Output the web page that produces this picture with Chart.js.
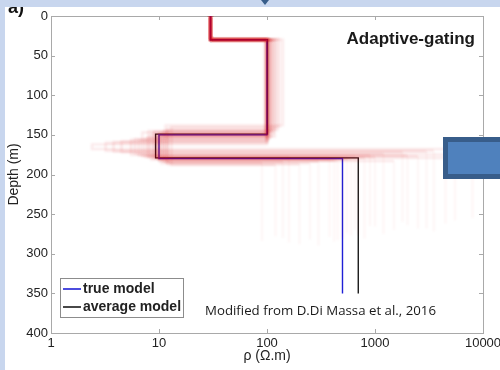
<!DOCTYPE html>
<html>
<head>
<meta charset="utf-8">
<script src="https://cdn.jsdelivr.net/npm/chart.js@4.4.1/dist/chart.umd.min.js"></script>
<style>
  html, body { margin: 0; padding: 0; background: #fff; }
  canvas { display: block; }
</style>
</head>
<body>
<canvas id="myChart" width="500" height="370"></canvas>
<script>
// axis ticks
const depthTicks = [0, 50, 100, 150, 200, 250, 300, 350, 400];
const rhoTicks = [1, 10, 100, 1000, 10000];

// true and average 4-layer models: layer resistivities, interface depths, bottom
const trueRho = [30, 100, 10, 500];
const trueDepth = [30, 150, 180];
const trueBottom = 350;

const avgRho = [30, 101, 9.3, 700];
const avgDepth = [30, 149, 179];
const avgBottom = 350;

// inverted models, one column per model
const ensRho1   = [30, 30, 30, 30, 30, 30, 30, 30, 30, 30, 30, 30, 30, 30, 30, 30, 30, 30, 30, 30, 30, 30, 30, 30, 30, 30, 30, 30];
const ensDepth1 = [30, 30, 31, 30, 29, 30, 30, 31, 30, 30, 30, 29, 30, 30, 31, 30, 30, 30, 30, 30, 30, 29, 30, 31, 30, 30, 30, 30];
const ensRho2   = [100, 105, 98, 110, 102, 120, 100, 95, 115, 100, 108, 130, 100, 104, 112, 99, 140, 101, 106, 125, 100, 103, 97, 118, 100, 109, 100, 102];
const ensDepth2 = [150, 148, 152, 145, 155, 142, 158, 150, 147, 160, 153, 140, 162, 149, 151, 156, 138, 146, 154, 144, 150, 157, 148, 152, 159, 145, 150, 151];
const ensRho3   = [10, 9, 11, 8, 6, 12, 4.5, 10.5, 7, 3.2, 9.5, 13, 2.4, 8.5, 10, 5.5, 11.5, 9, 7.5, 12, 10, 6.5, 10, 8, 3.8, 11, 9.8, 9.5];
const ensDepth3 = [180, 178, 182, 176, 174, 184, 172, 186, 177, 170, 179, 188, 168, 181, 183, 175, 185, 180, 178, 187, 180, 176, 182, 179, 171, 184, 180, 179];
const ensRho4   = [500, 650, 420, 900, 1200, 300, 1800, 250, 2500, 3500, 160, 120, 4500, 700, 1500, 5500, 90, 380, 1000, 200, 550, 2000, 450, 8000, 3000, 140, 600, 800];
const ensBottom = [280, 270, 285, 265, 275, 290, 260, 282, 268, 272, 286, 278, 262, 276, 270, 258, 284, 279, 266, 288, 274, 264, 283, 255, 268, 280, 277, 281];

// turn a layered model into a staircase of points (x = rho, y = depth)
function toSteps(rho, depth, bottom) {
  const pts = [{x: rho[0], y: 0}];
  for (let i = 0; i < depth.length; i++) {
    pts.push({x: rho[i], y: depth[i]});
    pts.push({x: rho[i + 1], y: depth[i]});
  }
  pts.push({x: rho[rho.length - 1], y: bottom});
  return pts;
}

const ensembleSets = ensRho1.map((r1, i) => ({
  label: 'ensemble',
  data: toSteps([r1, ensRho2[i], ensRho3[i], ensRho4[i]],
                [ensDepth1[i], ensDepth2[i], ensDepth3[i]], ensBottom[i]),
  borderColor: 'rgba(215, 0, 20, 0.09)',
  borderWidth: 2.4,
  // the half-space part of each model is drawn much fainter
  segment: {
    borderColor: c => c.p0DataIndex >= 6 ? 'rgba(230, 0, 20, 0.05)' : undefined,
    borderWidth: c => c.p0DataIndex >= 6 ? 1.6 : undefined
  },
  order: 0
}));

const trueSet = {
  label: 'true model',
  data: toSteps(trueRho, trueDepth, trueBottom),
  borderColor: '#1f1fd6',
  borderWidth: 1.4,
  order: 1
};

const avgSet = {
  label: 'average model',
  data: toSteps(avgRho, avgDepth, avgBottom),
  borderColor: '#1a1a1a',
  borderWidth: 1.4,
  order: 2
};

const FONT = '"Liberation Sans", Arial, sans-serif';

// soften the ensemble lines a little
const softLines = {
  id: 'softLines',
  beforeDatasetDraw(chart, args) {
    if (chart.data.datasets[args.index].label !== 'ensemble') return;
    chart.ctx.save();
    chart.ctx.filter = 'blur(1.1px)';
  },
  afterDatasetDraw(chart, args) {
    if (chart.data.datasets[args.index].label !== 'ensemble') return;
    chart.ctx.restore();
  }
};

// box around the plot with inward ticks on all four sides
const axesBox = {
  id: 'axesBox',
  beforeDatasetsDraw(chart) {
    const {ctx, chartArea: a, scales: {x, y}} = chart;
    ctx.save();
    ctx.strokeStyle = '#a9a9a9';
    ctx.lineWidth = 1;
    ctx.strokeRect(Math.round(a.left) + 0.5, Math.round(a.top) + 0.5,
                   Math.round(a.right - a.left), Math.round(a.bottom - a.top));
    ctx.beginPath();
    rhoTicks.forEach(v => {
      const px = Math.round(x.getPixelForValue(v)) + 0.5;
      ctx.moveTo(px, a.bottom); ctx.lineTo(px, a.bottom - 4);
      ctx.moveTo(px, a.top); ctx.lineTo(px, a.top + 4);
    });
    depthTicks.forEach(v => {
      const py = Math.round(y.getPixelForValue(v)) + 0.5;
      ctx.moveTo(a.left, py); ctx.lineTo(a.left + 4, py);
      ctx.moveTo(a.right, py); ctx.lineTo(a.right - 4, py);
    });
    ctx.stroke();
    ctx.restore();
  }
};

// legend, labels and the slide decorations around the figure
const overlay = {
  id: 'overlay',
  afterDraw(chart) {
    const {ctx, chartArea: a} = chart;
    ctx.save();

    ctx.fillStyle = '#1a1a1a';
    ctx.font = 'bold 17px ' + FONT;
    ctx.textAlign = 'right';
    ctx.textBaseline = 'middle';
    ctx.fillText('Adaptive-gating', a.right - 8, 39);

    // legend box
    const lx = 60, ly = 278, lw = 123, lh = 39;
    ctx.fillStyle = '#fff';
    ctx.fillRect(lx, ly, lw, lh);
    ctx.strokeStyle = '#8c8c8c';
    ctx.lineWidth = 1;
    ctx.strokeRect(lx + 0.5, ly + 0.5, lw, lh);
    [trueSet, avgSet].forEach((ds, i) => {
      const ry = ly + 11 + i * 18;
      ctx.strokeStyle = ds.borderColor;
      ctx.lineWidth = 1.6;
      ctx.beginPath();
      ctx.moveTo(lx + 3, ry); ctx.lineTo(lx + 21, ry);
      ctx.stroke();
      ctx.fillStyle = '#222';
      ctx.font = 'bold 14px ' + FONT;
      ctx.textAlign = 'left';
      ctx.fillText(ds.label, lx + 23, ry);
    });

    // source note
    ctx.fillStyle = '#1a1a1a';
    ctx.font = '13px "Open Sans", sans-serif';
    ctx.textAlign = 'left';
    const note = 'Modified from D.Di Massa et al., 2016';
    const w = ctx.measureText(note).width;
    ctx.save();
    ctx.translate(205, 311);
    ctx.scale(231 / w, 1);
    ctx.fillText(note, 0, 0);
    ctx.restore();

    // box shape on the right edge
    ctx.fillStyle = '#4f81bd';
    ctx.fillRect(443, 137, 60, 42);
    ctx.strokeStyle = '#385d8a';
    ctx.lineWidth = 5;
    ctx.strokeRect(445.5, 139.5, 60, 37);

    // panel letter, partly under the top strip
    ctx.fillStyle = '#111';
    ctx.font = 'bold 18px ' + FONT;
    ctx.textBaseline = 'alphabetic';
    ctx.fillText('a)', 8, 13);

    // slide strips
    ctx.fillStyle = '#c8d6ee';
    ctx.fillRect(0, 0, 500, 7);
    ctx.fillRect(0, 0, 5, 370);

    ctx.fillStyle = '#385d8a';
    ctx.beginPath();
    ctx.moveTo(261, 0); ctx.lineTo(269, 0); ctx.lineTo(265, 5);
    ctx.closePath();
    ctx.fill();

    ctx.restore();
  }
};

const canvas = document.getElementById('myChart');
const ctx = canvas.getContext('2d');

const chart = new Chart(ctx, {
  type: 'scatter',
  data: {
    datasets: [...ensembleSets, trueSet, avgSet]
  },
  options: {
    responsive: false,
    animation: false,
    showLine: true,
    elements: {
      point: { radius: 0, hoverRadius: 0 },
      line: { tension: 0, fill: false }
    },
    layout: { padding: { left: 0, top: 16, right: 17, bottom: 0 } },
    plugins: {
      legend: { display: false },
      tooltip: { enabled: false }
    },
    scales: {
      x: {
        type: 'logarithmic',
        min: 1,
        max: 10000,
        afterBuildTicks: s => { s.ticks = rhoTicks.map(v => ({value: v})); },
        afterFit: s => { s.height = 37; s.paddingLeft = 0; s.paddingRight = 0; },
        grid: { display: false, drawTicks: false },
        border: { display: false },
        ticks: {
          padding: 3,
          color: '#222',
          font: { family: FONT, size: 13 },
          maxRotation: 0,
          callback: v => String(v)
        },
        title: {
          display: true,
          text: 'ρ (Ω.m)',
          color: '#222',
          font: { family: FONT, size: 14 },
          padding: { top: 0, bottom: 5 }
        }
      },
      y: {
        type: 'linear',
        reverse: true,
        min: 0,
        max: 400,
        afterBuildTicks: s => { s.ticks = depthTicks.map(v => ({value: v})); },
        afterFit: s => { s.width = 51; },
        grid: { display: false, drawTicks: false },
        border: { display: false },
        ticks: {
          padding: 3,
          color: '#222',
          font: { family: FONT, size: 13 }
        },
        title: {
          display: true,
          text: 'Depth (m)',
          color: '#222',
          font: { family: FONT, size: 14 },
          padding: { top: 6, bottom: 0 }
        }
      }
    }
  },
  plugins: [softLines, axesBox, overlay]
});
</script>
</body>
</html>
